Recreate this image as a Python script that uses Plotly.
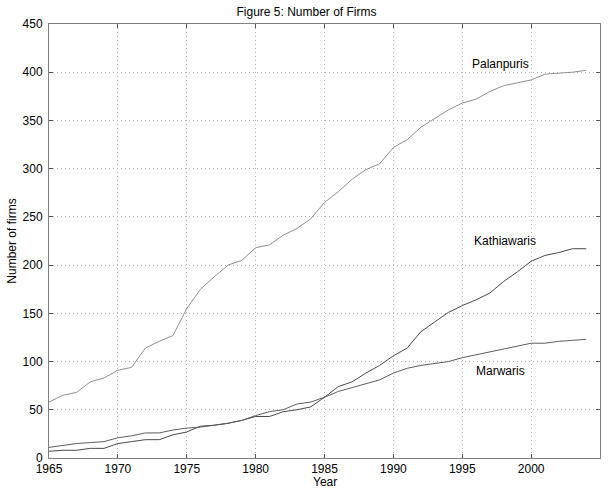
import plotly.graph_objects as go

years = list(range(1965, 2005))

palanpuris = [58, 65, 68, 79, 83, 91, 94, 114, 121, 127, 155, 175, 188, 200, 205,
              218, 221, 231, 238, 248, 265, 276, 289, 299, 305, 322, 330, 343, 352, 361,
              368, 372, 380, 386, 389, 392, 398, 399, 400, 402]
kathiawaris = [7, 8, 8, 10, 10, 15, 17, 19, 19, 24, 27, 33, 34, 36, 39,
               43, 43, 48, 50, 53, 63, 74, 79, 88, 96, 106, 114, 131, 141, 151,
               158, 164, 171, 183, 193, 204, 210, 213, 217, 217]
marwaris = [11, 13, 15, 16, 17, 21, 23, 26, 26, 29, 31, 32, 34, 36, 39,
            44, 48, 50, 56, 58, 63, 69, 73, 77, 81, 88, 93, 96, 98, 100,
            104, 107, 110, 113, 116, 119, 119, 121, 122, 123]

labels = ["Palanpuris", "Kathiawaris", "Marwaris"]
label_pos = [(1997.8, 409), (1998.1, 225), (1997.8, 90)]

FONT = "Liberation Sans"

fig = go.Figure()
fig.add_trace(go.Scatter(x=years, y=palanpuris, mode="lines",
                         line=dict(color="#8f8f8f", width=1), name="Palanpuris"))
fig.add_trace(go.Scatter(x=years, y=kathiawaris, mode="lines",
                         line=dict(color="#4a4a4a", width=1), name="Kathiawaris"))
fig.add_trace(go.Scatter(x=years, y=marwaris, mode="lines",
                         line=dict(color="#5e5e5e", width=1), name="Marwaris"))

for lab, (lx, ly) in zip(labels, label_pos):
    fig.add_annotation(x=lx, y=ly, text=lab, showarrow=False,
                       font=dict(size=12, color="black", family=FONT))

# x-axis title placed below the tick labels
fig.add_annotation(x=0.5, y=-0.038, xref="paper", yref="paper", text="Year",
                   showarrow=False, yanchor="top", borderpad=0,
                   font=dict(size=12, color="black", family=FONT))

axis_common = dict(showline=True, linecolor="#7f7f7f", linewidth=1, mirror="ticks",
                   ticks="inside", ticklen=4, tickcolor="#555555",
                   showgrid=True, gridcolor="#b5b5b5", griddash="1px,3px", gridwidth=1,
                   zeroline=False, automargin=False,
                   tickfont=dict(size=12, color="black", family=FONT))

fig.update_layout(
    width=613, height=489,
    margin=dict(l=49, r=13, t=24, b=31),
    paper_bgcolor="white", plot_bgcolor="white",
    showlegend=False,
    title=dict(text="Figure 5: Number of Firms", x=0.5, xanchor="center", y=0.985, yanchor="top",
               font=dict(size=12, color="black", family=FONT)),
    xaxis=dict(range=[1965, 2005], tickvals=list(range(1965, 2006, 5)),
               ticklabelstandoff=0, **axis_common),
    yaxis=dict(range=[0, 450], tickvals=list(range(0, 451, 50)),
               ticklabelstandoff=3,
               title=dict(text="Number of firms", standoff=3, font=dict(size=12, color="black", family=FONT)),
               **axis_common),
)

fig.write_html("out.html")
